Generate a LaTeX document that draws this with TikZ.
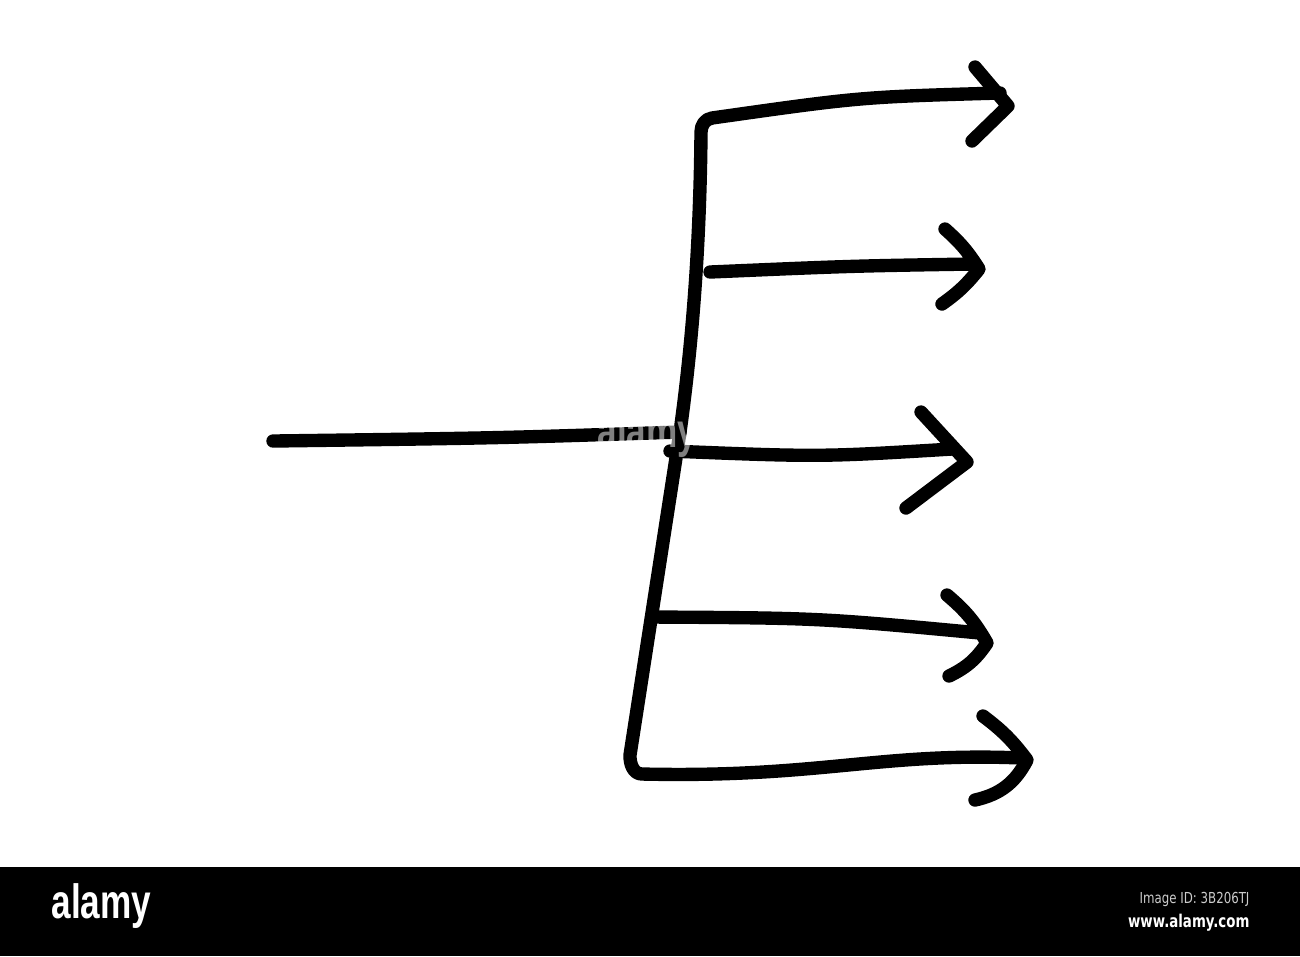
\documentclass[tikz,border=0pt]{standalone}
\usepackage{fontspec}
\setmainfont{Liberation Sans}
\newfontfamily\barfont{DejaVu Sans}
\usepackage{tikz}
\usetikzlibrary{calc}
\def\drawstroke{\draw[line width=3.8pt, line cap=round, line join=round]}
\def\barlabel{\node[text=white, inner sep=0pt, transform shape]}

\begin{document}
\begin{tikzpicture}[x=0.01cm,y=-0.01cm]
\useasboundingbox (0,0) rectangle (1300,956);
% points along the spine
\coordinate (topknee) at (701,132);
\coordinate (topstart) at (712,118);
\coordinate (midspine) at (680,432);
\coordinate (lowspine) at (630,755);
\coordinate (botstart) at (642,774);
\coordinate (stem) at (273,441);
% shaft ends and tips
\coordinate (endA) at (1000,93);
\coordinate (tipA) at (1008,106);
\coordinate (endB) at (972,264);
\coordinate (tipB) at (979,269);
\coordinate (startB) at (710,272);
\coordinate (startC) at (670,451);
\coordinate (endC) at (952,449);
\coordinate (tipC) at (967,462);
\coordinate (startD) at (652,617);
\coordinate (endD) at (980,633);
\coordinate (tipD) at (987,643);
\coordinate (endE) at (1022,758);
\coordinate (tipE) at (1027,760);
% the spine with top and bottom branches
\drawstroke (endA) .. controls (860,97) .. (topstart)
  to[out=188,in=90] (topknee)
  .. controls (700,260) and (690,360) .. (midspine)
  -- (lowspine) to[out=-92,in=180] (botstart)
  .. controls (820,778) and (880,752) .. (endE);
% stem into the spine
\drawstroke (stem) .. controls (500,438) .. (midspine);
% middle branches
\drawstroke (startB) .. controls (850,266) .. (endB);
\drawstroke (startC) .. controls (820,457) .. (endC);
\drawstroke (startD) .. controls (820,618) .. (endD);
% arrow heads
\drawstroke (975,67) -- (tipA) -- (972,141);
\drawstroke (945,229) to[bend left=8] (tipB) to[bend left=8] (942,304);
\drawstroke (921,412) -- (tipC) -- (906,508);
\drawstroke (947,595) to[bend left=10] (tipD) to[bend left=15] (949,676);
\drawstroke (983,716) to[bend left=8] (tipE) to[bend left=25] (975,800);
% watermark on the stem
\node[text=white, text opacity=0.5, font=\bfseries\fontsize{13.7}{14}\selectfont, xscale=0.73, transform shape, inner sep=0pt, anchor=base west] (mark) at (597,447) {alamy};
% bottom bar
\fill[black] (0,867) rectangle (1300,956);
\barlabel[font=\bfseries\fontsize{13.7}{14}\selectfont, xscale=0.73, anchor=base west] (logo) at (51,918) {alamy};
\barlabel[text=black!20, font=\barfont\fontsize{4.3}{5}\selectfont, xscale=0.78, anchor=base east] (imgid) at (1250,903) {Image ID: 3B206TJ};
\barlabel[font=\barfont\bfseries\fontsize{5}{6}\selectfont, xscale=0.76, anchor=base east] (site) at (1250,927) {www.alamy.com};
\end{tikzpicture}
\end{document}
